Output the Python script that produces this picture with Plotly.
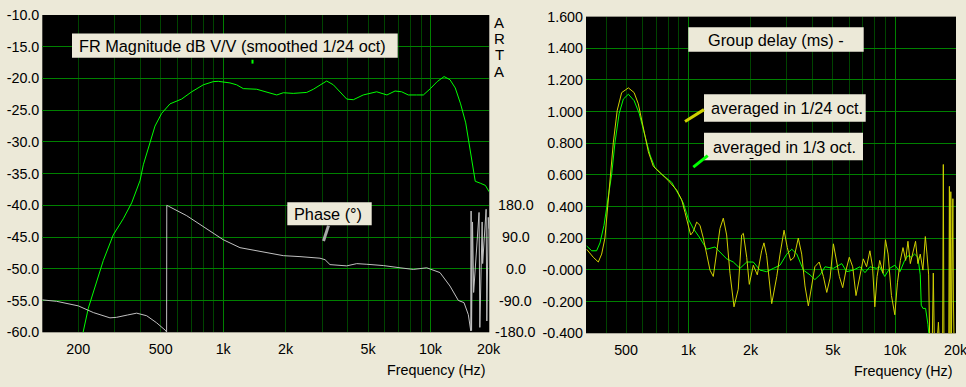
import plotly.graph_objects as go

W, H = 966, 387
BG = '#ECE9D8'
GRID_BRIGHT = '#008000'
GRID_DARK = '#004400'
LIME = '#00ff00'
YELLOW = '#d0d000'
SILVER = '#c0c0c0'
FONT = 'Liberation Sans, Arial, sans-serif'

# ---------------- data: left panel (FR magnitude + phase) ----------------
fr_freq = [205, 211, 223.6, 245.4, 264, 295, 329.8, 362, 382.6, 397, 412, 443, 469, 505, 554, 630,
           705, 802, 896, 947, 1078, 1161, 1250, 1451, 1561, 1813, 1951, 2178, 2530, 2723, 3157,
           3399, 3945, 4245, 4738, 5504, 6165, 6747, 7261, 7816, 8561, 9239, 9989, 10770, 11630,
           12422, 13170, 13970, 14790, 15220, 15840, 16440, 17380, 18400, 19180]
fr_db = [-61.0, -60.0, -56.2, -52.2, -48.7, -44.65, -42.1, -39.6, -37.6, -36.1, -33.6, -30.05, -27.5,
         -25.5, -24.0, -23.25, -22.1, -21.0, -20.5, -20.45, -20.7, -21.0, -21.6, -21.7, -22.0, -22.6,
         -22.25, -22.35, -22.2, -21.7, -20.4, -21.0, -23.25, -23.35, -22.6, -22.1, -22.6, -21.98,
         -22.1, -22.6, -22.6, -22.6, -21.6, -20.5, -19.7, -20.2, -21.5, -24.0, -27.0, -29.5, -33.1,
         -36.2, -36.5, -36.85, -37.85]

ph_freq = [134, 157, 200, 236.5, 284.4, 306, 345, 382.6, 427.6, 477.6, 530, 533.5, 534.5, 543.5,
           667, 832, 1000, 1205, 1621, 1950, 2347, 2931, 3100, 3276, 3942, 4409, 4933, 5921, 7129,
           8260, 9587, 11111, 12417, 13620, 14510, 15224, 15640, 15700, 15780, 15950, 16150, 17150,
           17300, 17750, 17850, 18550, 18700, 19000, 19150]
ph_deg = [-88, -92, -105, -124, -139, -137.5, -131, -125.7, -133, -153, -176, -180, 180, 178,
          150.7, 114.4, 82.7, 60.1, 46.5, 37.4, 34.7, 30.2, 26, 12, 8.4, 14.8, 13, 9.3, 3,
          -1.6, 3, -10.6, -48.7, -89.5, -95.8, -130, -176, 164, -175, 133, -67, 160,
          -166, 133, 15, 169, -148, 146, 114]

# ---------------- data: right panel (group delay) ----------------
gd24_freq = [322.5, 347, 367, 381, 395, 407, 418, 434, 453, 476, 513, 547, 573, 606, 641, 677, 730,
             800, 879, 929, 964, 1000, 1027, 1057, 1098, 1139, 1182, 1227, 1273, 1321, 1372, 1423,
             1477, 1533, 1591, 1664, 1744, 1812, 1846, 1917, 1973, 2063, 2157, 2264, 2323, 2394,
             2533, 2680, 2779, 2906, 3013, 3126, 3250, 3405, 3537, 3668, 3809, 3950, 4096, 4298,
             4502, 4677, 4852, 5034, 5186, 5379, 5586, 5795, 6010, 6242, 6476, 6772, 7024, 7287,
             7559, 7787, 7985, 8190, 8434, 8751, 8991, 9258, 9612, 9979, 10276, 10616, 10932,
             11260, 11550, 11860, 12210, 12574, 12904, 13250, 13650, 14020, 14280, 14550, 14720,
             15150, 15320, 15500, 16000, 16220, 16400, 17000, 17130, 17250, 18200, 18330, 18450,
             18620, 18750, 19050, 19170, 19300]
gd24 = [0.130, 0.080, 0.050, 0.100, 0.201, 0.383, 0.595, 0.807, 1.008, 1.120, 1.150, 1.120, 1.049,
        0.908, 0.746, 0.655, 0.615, 0.565, 0.504, 0.443, 0.363, 0.282, 0.221, 0.242, 0.302, 0.282,
        0.201, 0.100, -0.001, -0.041, 0.100, 0.262, 0.327, 0.221, -0.021, -0.233, -0.122, 0.221,
        0.231, 0.080, -0.091, 0.030, -0.031, 0.121, 0.171, 0.090, -0.213, -0.041, 0.100, 0.251,
        0.141, 0.060, 0.080, 0.201, 0.100, -0.101, -0.227, -0.101, 0.020, 0.050, -0.041, -0.142,
        -0.051, 0.165, 0.060, -0.041, -0.112, -0.001, 0.080, 0.020, -0.162, -0.021, 0.070, 0.020,
        0.121, 0.020, -0.233, -0.041, 0.060, -0.021, 0.191, 0.100, -0.162, -0.283, -0.081, 0.060,
        0.141, 0.060, 0.181, 0.040, 0.121, 0.181, 0.040, 0.100, -0.001, 0.211, 0.100, -0.031,
        -0.450, -0.450, -0.020, -0.450, -0.450, -0.330, -0.450, -0.450, 0.666, -0.450, -0.450,
        0.528, -0.450, 0.494, -0.450, 0.450, -0.190, -0.450]

gd3_freq = [322.5, 341, 360, 374, 391, 403, 410, 426, 442, 463, 485, 513, 547, 579, 617, 653, 690,
            743, 831, 895, 946, 1000, 1057, 1139, 1227, 1346, 1423, 1533, 1651, 1779, 1917, 2063,
            2222, 2394, 2581, 2779, 2993, 3167, 3350, 3603, 3880, 4096, 4339, 4588, 5034, 5525,
            5838, 6285, 6772, 7157, 7559, 8138, 8434, 8918, 9428, 9979, 10565, 11134, 11550,
            11990, 12430, 12904, 13250, 13400, 13650, 14060, 14430, 14700]
gd3 = [0.151, 0.121, 0.121, 0.171, 0.282, 0.403, 0.484, 0.605, 0.807, 0.988, 1.079, 1.110, 1.069,
       0.988, 0.847, 0.726, 0.645, 0.605, 0.554, 0.484, 0.423, 0.322, 0.262, 0.201, 0.131, 0.145,
       0.110, 0.070, 0.050, 0.010, 0.050, 0.050, -0.001, -0.011, 0.010, 0.030, 0.100, 0.131,
       0.100, -0.001, -0.031, -0.061, -0.031, 0.020, 0.010, 0.040, -0.011, -0.001, 0.020, -0.017,
       0.020, 0.010, 0.020, -0.041, 0.010, 0.030, -0.011, 0.060, 0.090, 0.080, 0.100, 0.080,
       -0.031, -0.223, -0.243, -0.243, -0.344, -0.450]

# ---------------- ticks ----------------
left_grid_vals = [200, 300, 400, 500, 600, 700, 800, 900, 2000, 3000, 4000, 5000, 6000, 7000,
                  8000, 9000]
left_grid_text = ['200', '', '', '500', '', '', '', '', '2k', '', '', '5k', '', '', '', '']
right_grid_vals = [400, 500, 600, 700, 800, 900, 2000, 3000, 4000, 5000, 6000, 7000, 8000, 9000]
right_grid_text = ['', '500', '', '', '', '', '2k', '', '', '5k', '', '', '', '']
decade_vals = [1000, 10000]
decade_text = ['1k', '10k']
edge_label = '20k'

db_ticks = [-60, -55, -50, -45, -40, -35, -30, -25, -20, -15, -10]
db_text = ['%.1f' % v for v in db_ticks]
phase_ticks = [-180, -90, 0, 90, 180]
phase_text = ['-180.0', '-90.0', '0.0', '90.0', '180.0']
gd_ticks = [-0.4, -0.2, 0.0, 0.2, 0.4, 0.6, 0.8, 1.0, 1.2, 1.4, 1.6]
gd_text = ['-0.400', '-0.200', '-0.000', '0.200', '0.400', '0.600', '0.800', '1.000', '1.200',
           '1.400', '1.600']

LEFT_XR = [2.1275, 4.2837]
RIGHT_XR = [2.5051, 4.2951]


def px(x):
    return x / W


def py(y):
    return 1 - y / H


fig = go.Figure()
fig.add_trace(go.Scatter(x=fr_freq, y=fr_db, mode='lines', line=dict(color=LIME, width=1),
                         xaxis='x', yaxis='y', showlegend=False, hoverinfo='skip'))
fig.add_trace(go.Scatter(x=ph_freq, y=ph_deg, mode='lines', line=dict(color=SILVER, width=1),
                         xaxis='x3', yaxis='y3', showlegend=False, hoverinfo='skip'))
fig.add_trace(go.Scatter(x=gd3_freq, y=gd3, mode='lines', line=dict(color=LIME, width=1),
                         xaxis='x2', yaxis='y2', showlegend=False, hoverinfo='skip'))
fig.add_trace(go.Scatter(x=gd24_freq, y=gd24, mode='lines', line=dict(color=YELLOW, width=1),
                         xaxis='x4', yaxis='y2', showlegend=False, hoverinfo='skip'))

tickfont = dict(family=FONT, size=14.3, color='black')

xcommon = dict(type='log', showgrid=True, gridwidth=1, zeroline=False, showline=False, ticks='',
               tickfont=tickfont, ticklabelstandoff=6, tickmode='array')
ycommon = dict(showgrid=True, gridcolor=GRID_BRIGHT, gridwidth=1, zeroline=False,
               showline=False, ticks='', tickfont=tickfont, tickmode='array')

LDOM = [px(42.3), px(489.3)]
RDOM = [px(586), px(956)]

fig.update_layout(
    width=W, height=H, autosize=False,
    margin=dict(l=0, r=0, t=0, b=0),
    paper_bgcolor=BG, plot_bgcolor='black',
    showlegend=False,
    xaxis=dict(xcommon, domain=LDOM, anchor='y', range=LEFT_XR, gridcolor=GRID_DARK,
               tickvals=left_grid_vals, ticktext=left_grid_text),
    xaxis3=dict(xcommon, overlaying='x', anchor='y', range=LEFT_XR, gridcolor=GRID_BRIGHT,
                tickvals=decade_vals, ticktext=decade_text),
    yaxis=dict(ycommon, domain=[py(338.3), py(7.3)], anchor='x', range=[-60, -10],
               tickvals=db_ticks, ticktext=db_text, ticklabelstandoff=2),
    yaxis3=dict(overlaying='y', anchor='x', side='right', range=[-180, 720], showgrid=False,
                zeroline=False, showticklabels=False, ticks='', showline=False),
    xaxis2=dict(xcommon, domain=RDOM, anchor='y2', range=RIGHT_XR, gridcolor=GRID_DARK,
                tickvals=right_grid_vals, ticktext=right_grid_text),
    xaxis4=dict(xcommon, overlaying='x2', anchor='y2', range=RIGHT_XR, gridcolor=GRID_BRIGHT,
                tickvals=decade_vals, ticktext=decade_text),
    yaxis2=dict(ycommon, domain=[py(339.3), py(9)], anchor='x2', range=[-0.4, 1.6],
                tickvals=gd_ticks, ticktext=gd_text, ticklabelstandoff=2),
)

shapes = []
# label boxes (px coords)
boxes = [
    (72, 26.7, 397.7, 52),
    (287.3, 202.7, 371.7, 226.7),
    (688.3, 20, 863.7, 45.7),
    (704, 90, 865.7, 118.7),
    (704, 130, 863, 158.7),
]
for (x0, y0, x1, y1) in boxes:
    shapes.append(dict(type='rect', xref='paper', yref='paper', x0=px(x0), x1=px(x1),
                       y0=py(y1), y1=py(y0), fillcolor=BG, line=dict(width=0), layer='above'))

# leader lines
leaders = [
    ((252.5, 54), (252.5, 58), LIME, 2),
    ((328.5, 227), (323.5, 243), '#a8a8a8', 3),
    ((685, 118.3), (704, 106), YELLOW, 3),
    ((693.3, 166), (707.7, 154), LIME, 3),
    ((749.5, 157), (753.5, 157), 'black', 1),
]
for (a, b, c, w) in leaders:
    shapes.append(dict(type='line', xref='paper', yref='paper', x0=px(a[0]), y0=py(a[1]),
                       x1=px(b[0]), y1=py(b[1]), line=dict(color=c, width=w), layer='above'))

fig.update_layout(shapes=shapes)

ann = []
labfont = dict(family=FONT, size=16.3, color='black')
texts = [
    ('FR Magnitude dB V/V (smoothed 1/24 oct)', 77, 39.8, 'left'),
    ('Phase (°)', 292.3, 215.0, 'left'),
    ('Group delay (ms) -', 776, 33.3, 'center'),
    ('averaged in 1/24 oct.', 708.7, 104.8, 'left'),
    ('averaged in 1/3 oct.', 710.7, 144.8, 'left'),
]
for (t, x, y, anc) in texts:
    ann.append(dict(text=t, xref='paper', yref='paper', x=px(x), y=py(y), xanchor=anc,
                    yanchor='middle', showarrow=False, font=labfont))

# ARTA vertical letters
for ch, yc in zip('ARTA', [15, 32.3, 49, 66]):
    ann.append(dict(text=ch, xref='paper', yref='paper', x=px(499.5), y=py(yc), xanchor='center',
                    yanchor='middle', showarrow=False, font=dict(family=FONT, size=15, color='black')))

# phase axis labels (phase axis overlays the dB axis)
for v, t in zip(phase_ticks, phase_text):
    ann.append(dict(text=t, xref='paper', yref='y3', x=px(515.5), y=v, xanchor='center',
                    yanchor='middle', showarrow=False, font=tickfont))

# edge "20k" labels and axis titles
ann.append(dict(text=edge_label, xref='paper', yref='paper', x=LDOM[1], y=py(355.5),
                xanchor='center', yanchor='middle', showarrow=False, font=tickfont))
ann.append(dict(text=edge_label, xref='paper', yref='paper', x=px(955.5), y=py(356.5),
                xanchor='center', yanchor='middle', showarrow=False, font=tickfont))
ann.append(dict(text='Frequency (Hz)', xref='paper', yref='paper', x=px(488.5), y=py(377.5),
                xanchor='right', yanchor='middle', showarrow=False, font=tickfont))
ann.append(dict(text='Frequency (Hz)', xref='paper', yref='paper', x=px(954.5), y=py(378.5),
                xanchor='right', yanchor='middle', showarrow=False, font=tickfont))

fig.update_layout(annotations=ann)

fig.write_html('out.html', config={'displayModeBar': False},
               post_script="document.body.style.margin='0';document.body.style.padding='0';"
                           "document.body.style.overflow='hidden';")
